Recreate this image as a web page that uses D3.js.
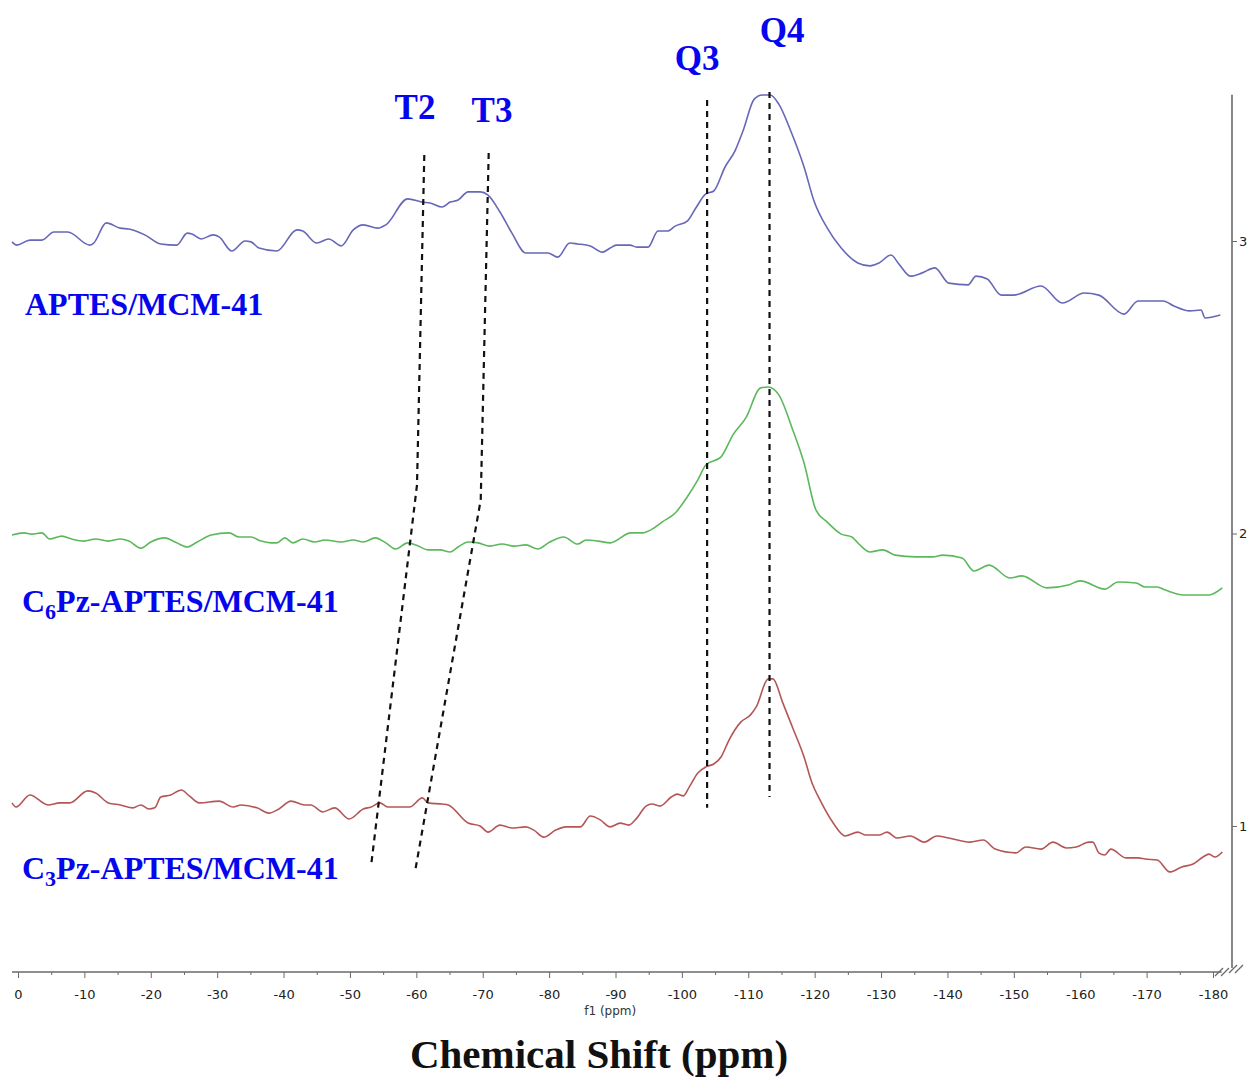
<!DOCTYPE html>
<html>
<head>
<meta charset="utf-8">
<script src="https://cdn.jsdelivr.net/npm/d3@7"></script>
<style>
  body { margin: 0; background: #fff; }
  svg { display: block; }
</style>
</head>
<body>
<svg id="chart" width="1253" height="1080"></svg>
<script>
// 29Si NMR spectra, [ppm, intensity]
var aptes = [
  [0.9, 2.997], [0.2, 2.986], [-1.8, 3.003], [-3.6, 3.003], [-5.4, 3.031], [-7.5, 3.031],
  [-10.8, 2.986], [-11.4, 2.993], [-13.3, 3.062], [-15.4, 3.044], [-16.7, 3.041], [-19.1, 3.021],
  [-21.5, 2.990], [-23.9, 2.986], [-25.5, 3.027], [-26.2, 3.024], [-27.6, 3.007], [-29.4, 3.021],
  [-30.3, 3.014], [-32.2, 2.966], [-34.2, 3.000], [-35.1, 2.997], [-36.3, 2.976], [-39.0, 2.966],
  [-42.0, 3.038], [-42.9, 3.034], [-45.0, 2.993], [-46.8, 3.007], [-48.7, 2.983], [-50.5, 3.038],
  [-52.0, 3.055], [-54.2, 3.044], [-55.4, 3.055], [-58.7, 3.144], [-60.9, 3.133], [-62.1, 3.130],
  [-63.9, 3.116], [-65.1, 3.133], [-66.3, 3.140], [-67.8, 3.168], [-69.6, 3.168], [-70.8, 3.157],
  [-72.6, 3.099], [-74.4, 3.027], [-76.5, 2.959], [-78.3, 2.959], [-79.8, 2.959], [-81.3, 2.945],
  [-83.1, 2.993], [-84.3, 2.990], [-86.2, 2.983], [-88.0, 2.962], [-89.2, 2.976], [-90.1, 2.986],
  [-92.2, 2.986], [-93.2, 2.979], [-94.9, 2.979], [-96.4, 3.034], [-97.8, 3.034], [-99.0, 3.051],
  [-100.8, 3.068], [-102.1, 3.113], [-103.6, 3.161], [-104.8, 3.171], [-106.5, 3.253], [-108.0, 3.308],
  [-109.2, 3.376], [-110.9, 3.485], [-112.1, 3.499], [-113.3, 3.499], [-114.6, 3.468], [-116.4, 3.376],
  [-118.4, 3.253], [-119.9, 3.137], [-121.9, 3.044], [-124.0, 2.976], [-126.5, 2.925], [-128.3, 2.915],
  [-129.7, 2.925], [-131.5, 2.952], [-132.7, 2.921], [-134.4, 2.880], [-136.2, 2.891], [-138.1, 2.908],
  [-140.2, 2.856], [-143.1, 2.850], [-144.3, 2.880], [-146.0, 2.870], [-148.1, 2.815], [-150.0, 2.815],
  [-154.1, 2.846], [-157.3, 2.788], [-160.6, 2.822], [-162.8, 2.815], [-166.6, 2.750], [-168.7, 2.795],
  [-172.5, 2.795], [-174.1, 2.778], [-176.5, 2.761], [-178.2, 2.764], [-178.8, 2.737], [-181.1, 2.747]
];

var c6pz = [
  [0.9, 1.995], [-0.9, 2.002], [-2.1, 1.998], [-3.6, 2.002], [-4.8, 1.981], [-6.6, 1.991],
  [-8.1, 1.981], [-9.9, 1.974], [-11.7, 1.981], [-13.6, 1.974], [-15.4, 1.981], [-16.7, 1.974],
  [-18.5, 1.950], [-20.0, 1.971], [-22.1, 1.985], [-23.9, 1.968], [-25.5, 1.954], [-27.0, 1.971],
  [-29.1, 1.995], [-31.8, 2.002], [-33.3, 1.988], [-35.1, 1.988], [-36.6, 1.974], [-38.1, 1.968],
  [-39.0, 1.968], [-40.2, 1.985], [-41.4, 1.968], [-42.9, 1.981], [-44.7, 1.971], [-46.2, 1.978],
  [-48.7, 1.971], [-50.5, 1.978], [-52.0, 1.971], [-53.8, 1.985], [-55.4, 1.968], [-56.9, 1.947],
  [-58.7, 1.968], [-59.9, 1.961], [-61.8, 1.944], [-63.6, 1.944], [-65.1, 1.937], [-66.3, 1.954],
  [-67.8, 1.971], [-69.3, 1.968], [-71.1, 1.957], [-72.9, 1.964], [-74.7, 1.957], [-76.5, 1.961],
  [-78.3, 1.947], [-80.1, 1.971], [-82.2, 1.988], [-84.3, 1.964], [-85.6, 1.978], [-87.4, 1.974],
  [-89.2, 1.968], [-92.3, 2.002], [-94.0, 2.002], [-95.8, 2.019], [-97.0, 2.039], [-99.0, 2.070],
  [-100.8, 2.125], [-102.4, 2.183], [-103.6, 2.234], [-105.9, 2.262], [-107.7, 2.337], [-109.7, 2.398],
  [-111.8, 2.497], [-113.0, 2.501], [-114.6, 2.474], [-116.7, 2.354], [-118.4, 2.241], [-120.2, 2.080],
  [-121.9, 2.039], [-124.0, 1.998], [-125.6, 1.988], [-126.8, 1.961], [-128.3, 1.937], [-130.3, 1.944],
  [-132.1, 1.926], [-135.3, 1.920], [-137.8, 1.920], [-139.3, 1.926], [-142.2, 1.916], [-144.0, 1.872],
  [-146.3, 1.892], [-149.4, 1.848], [-151.2, 1.855], [-155.0, 1.814], [-158.2, 1.824], [-160.0, 1.838],
  [-163.7, 1.810], [-165.7, 1.834], [-168.4, 1.831], [-169.8, 1.817], [-171.6, 1.817], [-172.8, 1.807],
  [-175.6, 1.790], [-179.4, 1.790], [-181.4, 1.814]
];

var c3pz = [
  [0.9, 1.079], [0.3, 1.065], [-1.8, 1.106], [-4.5, 1.072], [-6.3, 1.079], [-7.8, 1.079],
  [-10.5, 1.120], [-11.7, 1.113], [-13.6, 1.079], [-15.4, 1.072], [-17.3, 1.062], [-18.5, 1.072],
  [-19.7, 1.058], [-20.6, 1.062], [-21.5, 1.099], [-23.0, 1.106], [-24.6, 1.123], [-25.8, 1.103],
  [-27.3, 1.079], [-30.3, 1.085], [-32.4, 1.065], [-33.6, 1.072], [-36.0, 1.062], [-37.8, 1.044],
  [-39.3, 1.058], [-41.1, 1.085], [-43.2, 1.072], [-44.1, 1.072], [-45.9, 1.048], [-47.7, 1.062],
  [-49.9, 1.024], [-52.0, 1.058], [-53.2, 1.065], [-54.5, 1.079], [-55.7, 1.065], [-57.5, 1.065],
  [-59.0, 1.065], [-60.9, 1.096], [-61.8, 1.079], [-63.9, 1.075], [-64.8, 1.072], [-67.8, 1.010],
  [-69.6, 1.000], [-70.8, 0.979], [-72.6, 1.003], [-74.4, 0.993], [-76.5, 0.997], [-77.7, 0.986],
  [-79.2, 0.962], [-81.0, 0.986], [-82.5, 0.997], [-84.7, 0.997], [-86.2, 1.034], [-87.7, 1.021],
  [-89.2, 0.997], [-90.7, 1.010], [-92.0, 1.003], [-93.2, 1.027], [-94.6, 1.068], [-95.5, 1.075],
  [-96.7, 1.068], [-98.4, 1.099], [-99.3, 1.109], [-100.2, 1.103], [-101.1, 1.133], [-102.4, 1.181],
  [-103.6, 1.202], [-104.8, 1.212], [-105.9, 1.236], [-107.1, 1.294], [-108.9, 1.356], [-110.3, 1.379],
  [-111.2, 1.407], [-113.0, 1.503], [-113.7, 1.503], [-115.2, 1.421], [-116.7, 1.335], [-118.4, 1.236],
  [-119.6, 1.147], [-120.8, 1.089], [-122.8, 1.010], [-124.6, 0.966], [-126.5, 0.979], [-127.7, 0.969],
  [-129.7, 0.969], [-130.9, 0.979], [-132.4, 0.959], [-134.4, 0.966], [-136.5, 0.945], [-138.4, 0.966],
  [-140.2, 0.959], [-143.4, 0.945], [-145.4, 0.952], [-147.2, 0.921], [-150.3, 0.908], [-151.8, 0.928],
  [-154.1, 0.921], [-155.9, 0.945], [-157.9, 0.925], [-159.4, 0.928], [-161.3, 0.945], [-161.9, 0.945],
  [-162.8, 0.908], [-163.7, 0.901], [-164.6, 0.921], [-166.9, 0.891], [-168.7, 0.891], [-169.8, 0.887],
  [-171.6, 0.884], [-173.5, 0.843], [-175.3, 0.860], [-177.0, 0.870], [-178.5, 0.894], [-179.4, 0.904],
  [-180.3, 0.894], [-181.4, 0.911]
];

var xTicks = d3.range(0, -181, -10);
var xMinorTicks = d3.range(-5, -181, -10);
var yTicks = [1, 2, 3];

// guide lines for T2, T3, Q3, Q4 (ppm, intensity)
var guides = [
  { label: 'T2', pts: [[-61.2, 3.294], [-60.1, 2.166], [-53.2, 0.867]], at: [-59.8, 3.417] },
  { label: 'T3', pts: [[-70.9, 3.301], [-69.7, 2.115], [-59.8, 0.843]], at: [-71.4, 3.407] },
  { label: 'Q3', pts: [[-103.8, 3.482], [-103.8, 1.062]], at: [-102.3, 3.585] },
  { label: 'Q4', pts: [[-113.2, 3.509], [-113.2, 1.099]], at: [-115.1, 3.680] }
];

var series = [
  { name: 'APTES/MCM-41', data: aptes, color: '#6767b8', sub: null, labelY: 315, labelX: 25 },
  { name: 'C6Pz-APTES/MCM-41', data: c6pz, color: '#5cb85c', sub: '6', labelY: 612, labelX: 22 },
  { name: 'C3Pz-APTES/MCM-41', data: c3pz, color: '#b55656', sub: '3', labelY: 879, labelX: 22 }
];

var svg = d3.select('#chart');

var x = d3.scaleLinear().domain([0, -180]).range([18, 1213]);
var y = d3.scaleLinear().domain([1, 3]).range([826, 241]);

var axisY = 972;
var rightX = 1232;
var axisColor = '#6a6a6a';
var blue = '#0505ee';

// bottom axis
svg.append('line')
  .attr('x1', x(0.9)).attr('x2', x(-181.3))
  .attr('y1', axisY).attr('y2', axisY)
  .style('stroke', axisColor).style('stroke-width', 1.6);

var xAxis = svg.append('g')
  .attr('transform', 'translate(0,' + axisY + ')')
  .call(d3.axisBottom(x).tickValues(xTicks).tickSize(6).tickPadding(12)
    .tickFormat(function(d) { return d === 0 ? '0' : '-' + Math.abs(d); }));
xAxis.select('.domain').remove();
xAxis.selectAll('line').style('stroke', axisColor);
xAxis.selectAll('text')
  .style('font-family', '"DejaVu Sans", sans-serif')
  .style('font-size', '13px')
  .style('fill', '#222');

var xMinor = svg.append('g')
  .attr('transform', 'translate(0,' + axisY + ')')
  .call(d3.axisBottom(x).tickValues(xMinorTicks).tickSize(3).tickFormat(''));
xMinor.select('.domain').remove();
xMinor.selectAll('line').style('stroke', axisColor);

svg.append('text')
  .attr('x', x(-89.2)).attr('y', 1015)
  .attr('text-anchor', 'middle')
  .style('font-family', '"DejaVu Sans", sans-serif')
  .style('font-size', '12px')
  .style('fill', '#333')
  .text('f1 (ppm)');

// right axis
svg.append('line')
  .attr('x1', rightX).attr('x2', rightX)
  .attr('y1', y(3.5)).attr('y2', 968)
  .style('stroke', axisColor).style('stroke-width', 1.6);

var yAxis = svg.append('g')
  .attr('transform', 'translate(' + rightX + ',0)')
  .call(d3.axisRight(y).tickValues(yTicks).tickSize(5).tickPadding(2).tickFormat(d3.format('d')));
yAxis.select('.domain').remove();
yAxis.selectAll('line').style('stroke', axisColor);
yAxis.selectAll('text')
  .style('font-family', '"DejaVu Sans", sans-serif')
  .style('font-size', '13px')
  .style('fill', '#222');

// axis break marks
var breaks = [[1219, axisY], [1225, axisY], [rightX + 1, 969], [rightX + 7, 969]];
svg.selectAll('line.break')
  .data(breaks)
  .enter()
  .append('line')
  .attr('class', 'break')
  .attr('x1', function(d) { return d[0] - 4; })
  .attr('y1', function(d) { return d[1] + 4; })
  .attr('x2', function(d) { return d[0] + 4; })
  .attr('y2', function(d) { return d[1] - 4; })
  .style('stroke', axisColor)
  .style('stroke-width', 1.3);

// spectra
var line = d3.line()
  .x(function(d) { return x(d[0]); })
  .y(function(d) { return y(d[1]); })
  .curve(d3.curveMonotoneX);

svg.selectAll('path.spectrum')
  .data(series)
  .enter()
  .append('path')
  .attr('class', 'spectrum')
  .attr('d', function(d) { return line(d.data); })
  .style('fill', 'none')
  .style('stroke', function(d) { return d.color; })
  .style('stroke-width', 1.6)
  .style('stroke-linejoin', 'round');

// dashed guides
var guideLine = d3.line()
  .x(function(d) { return x(d[0]); })
  .y(function(d) { return y(d[1]); });

svg.selectAll('path.guide')
  .data(guides)
  .enter()
  .append('path')
  .attr('class', 'guide')
  .attr('d', function(d) { return guideLine(d.pts); })
  .style('fill', 'none')
  .style('stroke', '#111')
  .style('stroke-width', 2.2)
  .style('stroke-dasharray', '6,5');

svg.selectAll('text.peak')
  .data(guides)
  .enter()
  .append('text')
  .attr('class', 'peak')
  .attr('x', function(d) { return x(d.at[0]); })
  .attr('y', function(d) { return y(d.at[1]); })
  .attr('text-anchor', 'middle')
  .style('font-family', '"Liberation Serif", "Times New Roman", serif')
  .style('font-weight', 'bold')
  .style('font-size', '35px')
  .style('fill', blue)
  .text(function(d) { return d.label; });

// series labels
series.forEach(function(s) {
  var t = svg.append('text')
    .attr('x', s.labelX)
    .attr('y', s.labelY)
    .style('font-family', '"Liberation Serif", "Times New Roman", serif')
    .style('font-weight', 'bold')
    .style('font-size', '32px')
    .style('fill', blue);
  if (s.sub) {
    t.append('tspan').text('C');
    t.append('tspan').attr('dy', 7).style('font-size', '22px').text(s.sub);
    t.append('tspan').attr('dy', -7).text(s.name.slice(2));
  } else {
    t.text(s.name);
  }
});

// axis title
svg.append('text')
  .attr('x', 599)
  .attr('y', 1068)
  .attr('text-anchor', 'middle')
  .style('font-family', '"Liberation Serif", "Times New Roman", serif')
  .style('font-weight', 'bold')
  .style('font-size', '41px')
  .style('fill', '#111')
  .text('Chemical Shift (ppm)');
</script>
</body>
</html>
